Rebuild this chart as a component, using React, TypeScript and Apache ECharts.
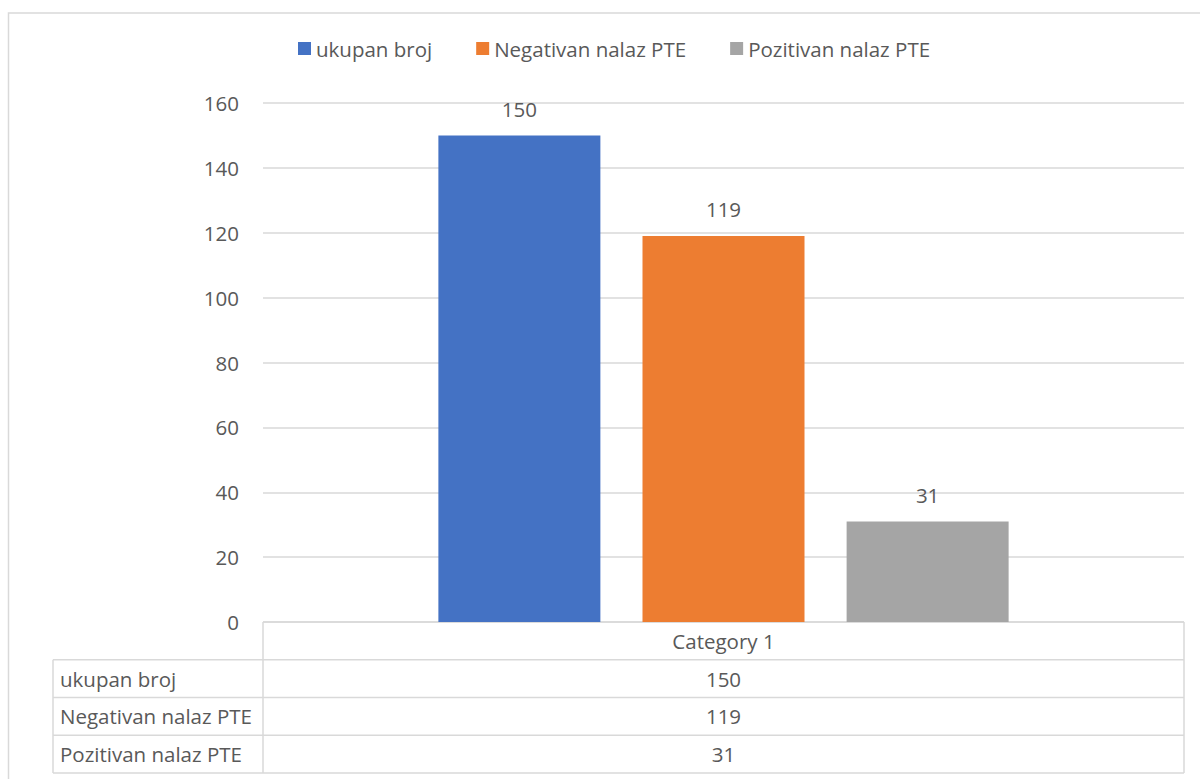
import React, { useEffect, useRef } from "react";
import * as echarts from "echarts";

const categories = ["Category 1"];
const seriesNames = ["ukupan broj", "Negativan nalaz PTE", "Pozitivan nalaz PTE"];
const seriesValues = [[150], [119], [31]];
const seriesColors = ["#4472C4", "#ED7D31", "#A5A5A5"];
const yTicks = { min: 0, max: 160, interval: 20 };

const FONT = "'Open Sans', 'Liberation Sans', sans-serif";
const FS = 20.5;
const TXT = "#595959";
const LINE = "#d9d9d9";

export default function App() {
  const ref = useRef<HTMLDivElement>(null);
  useEffect(() => {
    if (!ref.current) return;
    const chart = echarts.init(ref.current, undefined, { renderer: "svg" });

    const gridLeft = 263;
    const gridRight = 1184;
    const gridTop = 103;
    const gridBottom = 622;
    const rowH = 37.75;
    const tableLeft = 53;
    const midX = (gridLeft + gridRight) / 2;

    const graphics: any[] = [];
    graphics.push({
      type: "rect",
      shape: { x: 8.5, y: 13, width: 1300, height: 900 },
      style: { fill: "none", stroke: LINE, lineWidth: 1.5 },
      silent: true,
    });
    const hLine = (x1: number, x2: number, y: number) =>
      graphics.push({ type: "line", shape: { x1, y1: y, x2, y2: y }, style: { stroke: LINE, lineWidth: 1.5 }, silent: true });
    const vLine = (x: number, y1: number, y2: number) =>
      graphics.push({ type: "line", shape: { x1: x, y1, x2: x, y2 }, style: { stroke: LINE, lineWidth: 1.5 }, silent: true });

    const nRows = seriesNames.length;
    const tableBottom = gridBottom + rowH * (nRows + 1);
    hLine(gridLeft, gridRight, gridBottom);
    for (let i = 1; i <= nRows + 1; i++) hLine(tableLeft, gridRight, gridBottom + rowH * i);
    vLine(gridLeft, gridBottom, tableBottom);
    vLine(tableLeft, gridBottom + rowH, tableBottom);
    vLine(gridRight, gridBottom, tableBottom);

    categories.forEach((c) => {
      graphics.push({
        type: "text",
        x: midX,
        y: gridBottom + rowH / 2,
        style: { text: c, fill: TXT, font: `${FS}px ${FONT}`, align: "center", verticalAlign: "middle" },
      });
    });
    seriesNames.forEach((name, i) => {
      const y = gridBottom + rowH * (i + 1) + rowH / 2;
      graphics.push({
        type: "text",
        x: 60,
        y,
        style: { text: name, fill: TXT, font: `${FS}px ${FONT}`, align: "left", verticalAlign: "middle" },
      });
      graphics.push({
        type: "text",
        x: midX,
        y,
        style: { text: String(seriesValues[i][0]), fill: TXT, font: `${FS}px ${FONT}`, align: "center", verticalAlign: "middle" },
      });
    });

    chart.setOption({
      animation: false,
      textStyle: { fontFamily: FONT },
      legend: {
        top: 33,
        left: 293,
        itemWidth: 13,
        itemHeight: 13,
        itemGap: 44,
        icon: "rect",
        textStyle: { color: TXT, fontSize: FS, fontFamily: FONT },
        data: seriesNames,
      },
      grid: { left: gridLeft, right: 1200 - gridRight, top: gridTop, bottom: 779 - gridBottom, containLabel: false },
      xAxis: {
        type: "category",
        data: categories,
        axisLine: { show: false },
        axisTick: { show: false },
        axisLabel: { show: false },
      },
      yAxis: {
        type: "value",
        min: yTicks.min,
        max: yTicks.max,
        interval: yTicks.interval,
        axisLine: { show: false },
        axisTick: { show: false },
        axisLabel: { color: TXT, fontSize: FS, fontFamily: FONT, margin: 24 },
        splitLine: { lineStyle: { color: LINE, width: 1.5 } },
      },
      series: seriesNames.map((name, i) => ({
        name,
        type: "bar",
        data: seriesValues[i],
        barWidth: 162,
        barGap: "26%",
        itemStyle: { color: seriesColors[i] },
        label: {
          show: true,
          position: "top",
          distance: 16,
          color: TXT,
          fontSize: FS,
          fontFamily: FONT,
        },
      })),
      graphic: graphics,
    });
    return () => chart.dispose();
  }, []);
  return <div ref={ref} style={{ position: "fixed", left: 0, top: 0, width: 1200, height: 779, background: "#fff" }} />;
}
